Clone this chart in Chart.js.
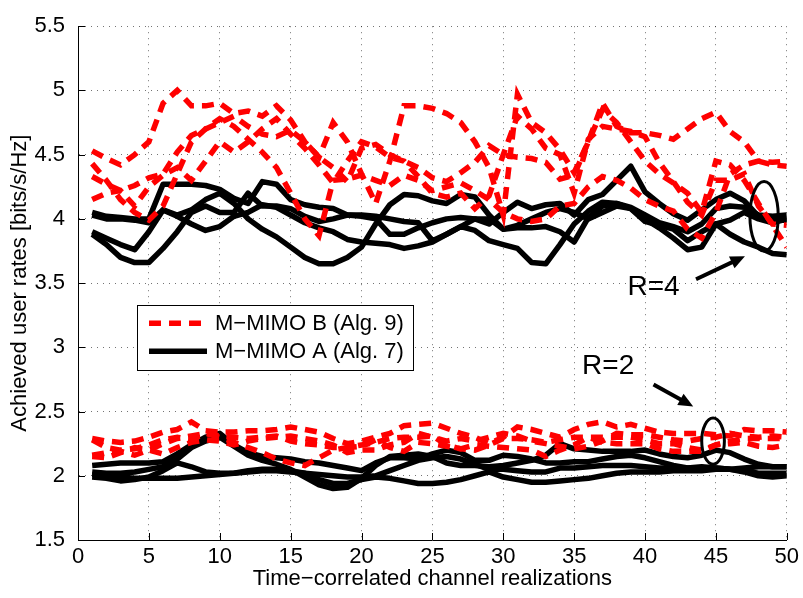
<!DOCTYPE html>
<html>
<head>
<meta charset="utf-8">
<title>Achieved user rates</title>
<script src="https://cdn.jsdelivr.net/npm/chart.js@4.4.0/dist/chart.umd.min.js"></script>
<style>
  html, body { margin: 0; padding: 0; background: #fff; }
  #wrap { width: 803px; height: 598px; }
</style>
</head>
<body>
<div id="wrap"><canvas id="rates" width="803" height="598"></canvas></div>
<script>
// channel realization index (x axis)
const realizations = [1,2,3,4,5,6,7,8,9,10,11,12,13,14,15,16,17,18,19,20,21,22,23,24,25,
                      26,27,28,29,30,31,32,33,34,35,36,37,38,39,40,41,42,43,44,45,46,47,48,49,50];

// R=4, M-MIMO B (Alg. 9)
const r4B1 = [4.53,4.47,4.42,4.50,4.60,4.90,5.00,4.88,4.88,4.90,4.82,4.84,4.80,4.88,4.77,4.60,4.48,4.75,4.60,4.35,
              4.12,4.45,4.88,4.88,4.86,4.82,4.75,4.60,4.40,4.03,4.97,4.75,4.67,4.54,4.36,4.60,4.90,4.72,4.67,4.67,
              4.65,4.62,4.70,4.78,4.83,4.68,4.60,4.45,4.42,4.41];
const r4B2 = [4.43,4.30,4.15,4.05,3.99,4.10,4.35,4.60,4.70,4.78,4.72,4.62,4.52,4.40,4.20,4.00,3.87,4.30,4.31,4.34,
              4.30,4.26,4.34,4.30,4.22,4.25,4.28,4.22,4.15,4.05,4.00,3.98,4.00,4.10,4.12,4.25,4.33,4.30,4.24,4.15,
              4.10,4.06,3.92,3.85,4.05,4.35,4.42,4.45,4.44,4.45];
const r4B3 = [4.33,4.27,4.22,4.26,4.32,4.35,4.52,4.65,4.70,4.75,4.80,4.72,4.66,4.64,4.69,4.60,4.48,4.40,4.29,4.55,
              4.58,4.50,4.45,4.40,4.32,4.29,4.36,4.44,4.57,4.50,4.48,4.47,4.44,4.31,4.34,4.60,4.85,4.75,4.60,4.45,
              4.35,4.28,4.20,4.05,4.45,4.42,4.30,4.12,3.95,3.78];
const r4B4 = [4.15,4.20,4.22,4.10,4.25,4.34,4.40,4.30,4.45,4.60,4.52,4.60,4.70,4.78,4.66,4.55,4.42,4.28,4.45,4.60,
              4.56,4.48,4.45,4.33,4.20,4.17,4.20,4.08,4.18,4.50,4.80,4.70,4.55,4.50,4.20,4.62,4.72,4.70,4.68,4.64,
              4.44,4.29,4.13,4.03,4.30,4.30,4.35,4.10,3.96,3.95];

// R=4, M-MIMO A (Alg. 7)
const r4A1 = [4.05,4.02,4.01,4.00,4.00,4.27,4.27,4.27,4.26,4.23,4.16,4.12,4.29,4.27,4.15,4.11,4.09,4.08,4.03,4.02,
              4.00,3.88,3.88,3.93,3.97,4.00,4.01,4.00,3.96,4.05,4.13,4.08,4.11,4.12,4.03,4.15,4.19,4.30,4.41,4.21,
              4.12,4.04,3.99,4.07,4.15,4.20,4.14,4.02,3.99,3.99];
const r4A2 = [4.03,4.00,4.00,3.99,3.97,4.07,4.02,3.96,3.91,3.94,4.02,4.05,4.11,4.09,4.03,3.97,3.93,3.90,3.84,3.82,
              3.81,3.80,3.77,3.79,3.82,3.88,3.94,3.91,3.83,3.80,3.77,3.66,3.65,3.80,3.96,4.06,4.13,4.12,4.09,4.03,
              3.97,3.94,3.90,3.96,4.08,4.10,4.09,4.03,4.02,4.03];
const r4A3 = [3.90,3.85,3.80,3.76,3.90,4.07,4.03,4.07,4.15,4.20,4.12,4.00,3.92,3.86,3.78,3.70,3.65,3.65,3.70,3.78,
              3.96,4.11,4.19,4.18,4.14,4.12,4.19,4.17,4.03,3.92,3.93,3.93,3.94,3.90,3.82,4.01,4.10,4.12,4.08,3.98,
              3.95,3.92,3.83,3.90,3.96,3.99,4.05,4.00,3.97,4.00];
const r4A4 = [3.88,3.80,3.70,3.66,3.66,3.77,3.90,4.05,4.10,4.05,4.05,4.20,4.10,4.10,4.08,4.02,3.98,4.00,4.03,4.03,
              4.02,4.00,3.98,3.97,3.83,3.88,3.94,4.00,4.00,3.92,3.95,4.00,4.05,4.08,4.05,4.00,4.05,4.10,4.08,4.00,
              3.93,3.85,3.76,3.78,3.96,3.88,3.82,3.78,3.73,3.72];

// R=2, M-MIMO B (Alg. 9)
const r2B1 = [2.29,2.27,2.26,2.27,2.30,2.34,2.36,2.42,2.35,2.34,2.34,2.35,2.35,2.36,2.38,2.36,2.34,2.29,2.25,2.27,
              2.30,2.33,2.39,2.40,2.41,2.37,2.33,2.30,2.25,2.30,2.38,2.36,2.33,2.30,2.36,2.40,2.42,2.38,2.40,2.37,
              2.34,2.33,2.33,2.33,2.32,2.31,2.36,2.35,2.35,2.34];
const r2B2 = [2.16,2.18,2.19,2.16,2.20,2.25,2.29,2.31,2.33,2.30,2.26,2.22,2.18,2.13,2.10,2.08,2.14,2.20,2.22,2.24,
              2.26,2.29,2.30,2.30,2.31,2.24,2.21,2.20,2.24,2.29,2.29,2.28,2.26,2.28,2.30,2.30,2.30,2.30,2.30,2.28,
              2.25,2.25,2.22,2.20,2.24,2.27,2.29,2.29,2.29,2.29];
const r2B3 = [2.28,2.22,2.20,2.21,2.24,2.28,2.30,2.28,2.33,2.31,2.30,2.29,2.30,2.31,2.27,2.25,2.24,2.22,2.22,2.23,
              2.28,2.22,2.19,2.26,2.25,2.23,2.21,2.24,2.23,2.22,2.21,2.20,2.15,2.20,2.24,2.30,2.26,2.25,2.25,2.25,
              2.21,2.19,2.19,2.19,2.24,2.25,2.26,2.23,2.22,2.24];
const r2B4 = [2.15,2.14,2.18,2.22,2.20,2.17,2.22,2.26,2.28,2.27,2.24,2.27,2.29,2.30,2.31,2.29,2.27,2.24,2.18,2.20,
              2.20,2.24,2.26,2.33,2.30,2.27,2.29,2.27,2.30,2.33,2.31,2.27,2.25,2.23,2.21,2.23,2.27,2.33,2.32,2.32,
              2.30,2.28,2.27,2.29,2.30,2.33,2.31,2.30,2.31,2.30];

// R=2, M-MIMO A (Alg. 7)
const r2A1 = [2.08,2.09,2.10,2.10,2.10,2.11,2.17,2.24,2.30,2.33,2.24,2.18,2.15,2.14,2.13,2.11,2.10,2.08,2.06,2.04,
              2.10,2.14,2.14,2.13,2.17,2.20,2.18,2.12,2.12,2.16,2.15,2.13,2.10,2.10,2.11,2.11,2.13,2.15,2.16,2.14,
              2.11,2.08,2.06,2.07,2.06,2.05,2.04,2.02,2.02,2.02];
const r2A2 = [2.03,2.02,2.02,2.03,2.05,2.07,2.13,2.22,2.27,2.30,2.23,2.16,2.12,2.09,2.05,1.99,1.93,1.90,1.91,1.98,
              2.08,2.15,2.16,2.17,2.15,2.10,2.08,2.08,2.07,2.08,2.10,2.12,2.16,2.25,2.21,2.20,2.19,2.19,2.19,2.20,
              2.17,2.15,2.14,2.16,2.20,2.18,2.13,2.09,2.07,2.07];
const r2A3 = [1.99,1.98,1.96,1.97,1.99,2.04,2.10,2.07,2.03,2.02,2.02,2.03,2.04,2.04,2.03,2.02,2.01,2.00,1.99,1.99,
              2.00,2.04,2.08,2.12,2.14,2.15,2.13,2.09,2.05,2.05,2.04,2.03,2.03,2.06,2.06,2.07,2.08,2.08,2.08,2.07,
              2.06,2.06,2.06,2.06,2.06,2.05,2.06,2.07,2.07,2.07];
const r2A4 = [2.01,2.00,1.99,1.98,1.98,1.98,1.98,1.99,2.00,2.01,2.02,2.04,2.05,2.05,2.04,2.02,1.97,1.94,1.94,1.97,
              1.99,1.98,1.96,1.94,1.94,1.95,1.97,2.00,2.03,1.99,1.97,1.95,1.95,1.96,1.97,1.98,2.00,2.02,2.03,2.03,
              2.03,2.04,2.04,2.04,2.05,2.05,2.03,2.00,1.99,2.00];

const labelB = 'M\u2212MIMO B (Alg. 9)';
const labelA = 'M\u2212MIMO A (Alg. 7)';

const redDash = [12, 8];

function pts(ys) {
  return ys.map((y, i) => ({ x: realizations[i], y: y }));
}

function redSet(ys, label) {
  return {
    label: label || '',
    data: pts(ys),
    borderColor: '#ff0000',
    borderWidth: 5.5,
    borderDash: redDash,
    borderCapStyle: 'butt',
    borderJoinStyle: 'miter',
    pointRadius: 0,
    tension: 0,
    fill: false
  };
}

function blackSet(ys, label) {
  return {
    label: label || '',
    data: pts(ys),
    borderColor: '#000000',
    borderWidth: 5.5,
    borderJoinStyle: 'round',
    pointRadius: 0,
    tension: 0,
    fill: false
  };
}

// annotations in data coordinates
const ellipseR4 = { x: 48.4, y: 4.02, rx: 1.0, ry: 0.27 };
const ellipseR2 = { x: 44.8, y: 2.27, rx: 0.8, ry: 0.18 };
const textR4 = { x: 40.6, y: 3.47, text: 'R=4' };
const textR2 = { x: 37.4, y: 2.85, text: 'R=2' };
const arrowR4 = { x1: 43.6, y1: 3.53, x2: 47.05, y2: 3.71 };
const arrowR2 = { x1: 40.6, y1: 2.71, x2: 43.4, y2: 2.54 };

const extras = {
  id: 'extras',
  afterDatasetsDraw(chart) {
    const ctx = chart.ctx;
    const xs = chart.scales.x, ys = chart.scales.y;
    const area = chart.chartArea;

    // inward tick marks
    ctx.save();
    ctx.strokeStyle = '#000';
    ctx.lineWidth = 1;
    ctx.beginPath();
    ys.ticks.forEach(t => {
      const p = Math.round(ys.getPixelForValue(t.value)) + 0.5;
      ctx.moveTo(area.left, p); ctx.lineTo(area.left + 7, p);
    });
    xs.ticks.forEach(t => {
      const p = Math.round(xs.getPixelForValue(t.value)) + 0.5;
      ctx.moveTo(p, area.bottom); ctx.lineTo(p, area.bottom - 7);
    });
    ctx.stroke();
    ctx.restore();

    // ellipses
    ctx.save();
    ctx.strokeStyle = '#000';
    ctx.lineWidth = 3;
    [ellipseR4, ellipseR2].forEach(e => {
      const cx = xs.getPixelForValue(e.x), cy = ys.getPixelForValue(e.y);
      const rx = Math.abs(xs.getPixelForValue(e.x + e.rx) - cx);
      const ry = Math.abs(ys.getPixelForValue(e.y + e.ry) - cy);
      ctx.beginPath();
      ctx.ellipse(cx, cy, rx, ry, 0, 0, Math.PI * 2);
      ctx.stroke();
    });

    // arrows
    [arrowR4, arrowR2].forEach(a => {
      const x1 = xs.getPixelForValue(a.x1), y1 = ys.getPixelForValue(a.y1);
      const x2 = xs.getPixelForValue(a.x2), y2 = ys.getPixelForValue(a.y2);
      const ang = Math.atan2(y2 - y1, x2 - x1);
      const head = 16, half = 0.42;
      ctx.lineWidth = 4;
      ctx.beginPath();
      ctx.moveTo(x1, y1);
      ctx.lineTo(x2 - Math.cos(ang) * head * 0.8, y2 - Math.sin(ang) * head * 0.8);
      ctx.stroke();
      ctx.fillStyle = '#000';
      ctx.beginPath();
      ctx.moveTo(x2, y2);
      ctx.lineTo(x2 - head * Math.cos(ang - half), y2 - head * Math.sin(ang - half));
      ctx.lineTo(x2 - head * Math.cos(ang + half), y2 - head * Math.sin(ang + half));
      ctx.closePath();
      ctx.fill();
    });

    // R labels
    ctx.fillStyle = '#000';
    ctx.font = '28px "Liberation Sans", Arial, sans-serif';
    ctx.textAlign = 'center';
    ctx.textBaseline = 'middle';
    [textR4, textR2].forEach(t => {
      ctx.fillText(t.text, xs.getPixelForValue(t.x), ys.getPixelForValue(t.y));
    });
    ctx.restore();

    // legend box
    const bx = area.left + 59, by = area.top + 279, bw = 276, bh = 65;
    ctx.save();
    ctx.fillStyle = '#fff';
    ctx.fillRect(bx, by, bw, bh);
    ctx.strokeStyle = '#000';
    ctx.lineWidth = 1;
    ctx.strokeRect(Math.round(bx) + 0.5, Math.round(by) + 0.5, bw, bh);
    const entries = chart.data.datasets.filter(d => d.label);
    entries.forEach((d, i) => {
      const ly = by + 18 + i * 28;
      ctx.strokeStyle = d.borderColor;
      ctx.lineWidth = d.borderWidth;
      ctx.lineCap = 'butt';
      ctx.setLineDash(d.borderDash || []);
      ctx.beginPath();
      ctx.moveTo(bx + 12, ly);
      ctx.lineTo(bx + 70, ly);
      ctx.stroke();
      ctx.setLineDash([]);
      ctx.fillStyle = '#000';
      ctx.font = '22px "Liberation Sans", Arial, sans-serif';
      ctx.textAlign = 'left';
      ctx.textBaseline = 'middle';
      ctx.fillText(d.label, bx + 78, ly + 1);
    });
    ctx.restore();
  }
};

Chart.defaults.font.family = '"Liberation Sans", Arial, sans-serif';
Chart.defaults.font.size = 22;
Chart.defaults.color = '#000';

new Chart(document.getElementById('rates').getContext('2d'), {
  type: 'line',
  data: {
    datasets: [
      redSet(r4B1, labelB), redSet(r4B2), redSet(r4B3), redSet(r4B4),
      redSet(r2B1), redSet(r2B2), redSet(r2B3), redSet(r2B4),
      blackSet(r4A1, labelA), blackSet(r4A2), blackSet(r4A3), blackSet(r4A4),
      blackSet(r2A1), blackSet(r2A2), blackSet(r2A3), blackSet(r2A4)
    ]
  },
  options: {
    responsive: false,
    animation: false,
    layout: { padding: { top: 17, right: 14, left: 0, bottom: 0 } },
    plugins: {
      legend: { display: false },
      tooltip: { enabled: false }
    },
    scales: {
      x: {
        type: 'linear',
        min: 0, max: 50,
        ticks: { stepSize: 5, padding: 4, maxRotation: 0 },
        grid: { color: 'rgba(0,0,0,0.55)', lineWidth: 1, drawTicks: false },
        border: { display: true, color: '#000', width: 1, dash: [1, 5] },
        title: { display: true, text: 'Time\u2212correlated channel realizations', padding: { top: 0, bottom: 6 } },
        afterFit(scale) { scale.height = 58; }
      },
      y: {
        min: 1.5, max: 5.5,
        ticks: { stepSize: 0.5, padding: 13, callback: v => String(Number(v.toFixed(1))) },
        grid: { color: 'rgba(0,0,0,0.55)', lineWidth: 1, drawTicks: false },
        border: { display: true, color: '#000', width: 1, dash: [1, 5] },
        title: { display: true, text: 'Achieved user rates [bits/s/Hz]', padding: { top: 7, bottom: 0 } },
        afterFit(scale) { scale.width = 78; }
      }
    }
  },
  plugins: [extras]
});
</script>
</body>
</html>
